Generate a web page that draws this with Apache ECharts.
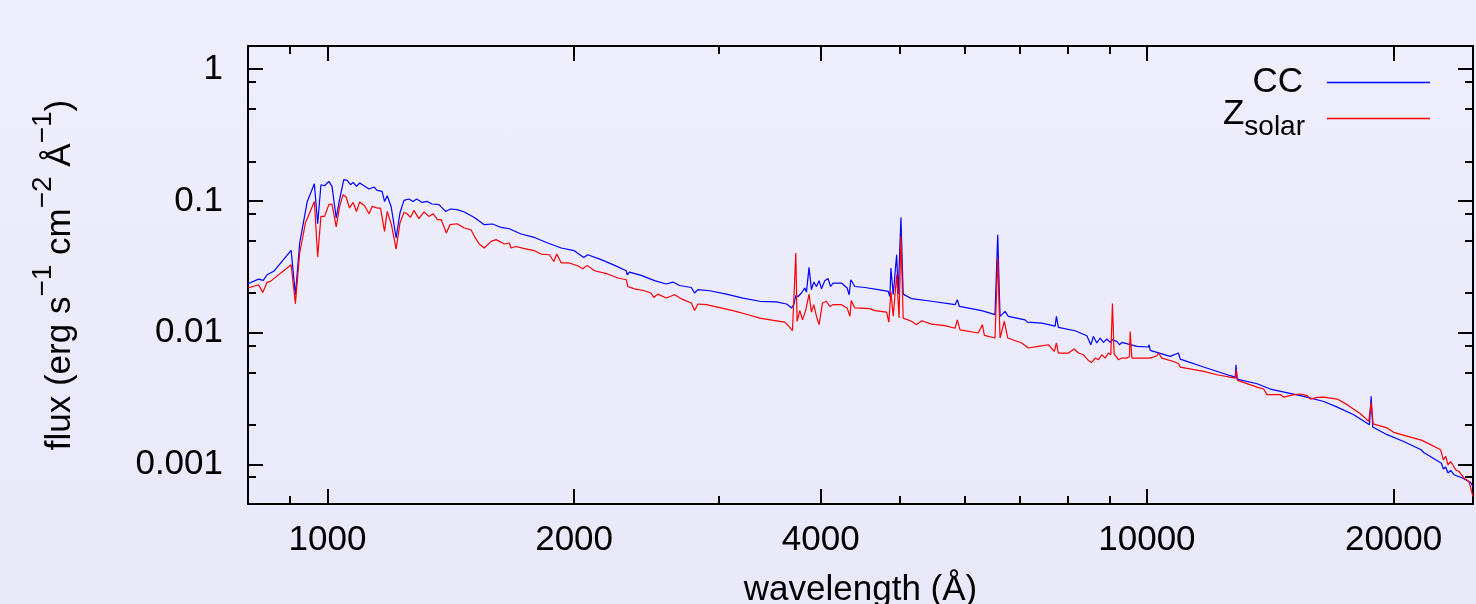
<!DOCTYPE html>
<html>
<head>
<meta charset="utf-8">
<title>flux vs wavelength</title>
<script src="https://cdn.jsdelivr.net/npm/echarts@6/dist/echarts.min.js"></script>
<style>
  html, body { margin: 0; padding: 0; }
  #main { width: 1476px; height: 604px; background: linear-gradient(#eeeefc, #e8e8f9); }
</style>
</head>
<body>
<div id="main"></div>
<script>
// [wavelength (Å), flux]
var ccPoints = [
  [800,0.0235],[824,0.0255],[835,0.0249],[844,0.0275],[860,0.0292],[903,0.0421],[914,0.0194],[925,0.0479],
  [945,0.0991],[964,0.1351],[973,0.0671],[982,0.1327],[992,0.1304],[1004,0.1406],[1013,0.1288],[1025,0.0742],
  [1033,0.0969],[1047,0.1449],[1057,0.1431],[1067,0.1327],[1075,0.1382],[1085,0.1288],[1095,0.1367],[1124,0.1231],
  [1140,0.1275],[1150,0.1201],[1166,0.1180],[1174,0.0991],[1183,0.1095],[1196,0.0908],[1213,0.0523],[1226,0.0809],
  [1240,0.1009],[1257,0.1034],[1272,0.0991],[1285,0.1034],[1305,0.0974],[1324,0.0991],[1342,0.0947],[1368,0.0936],
  [1394,0.0832],[1413,0.0868],[1440,0.0858],[1469,0.0824],[1511,0.0749],[1554,0.0660],[1591,0.0668],[1629,0.0629],
  [1667,0.0615],[1723,0.0561],[1789,0.0528],[1857,0.0479],[1929,0.0439],[2001,0.0419],[2055,0.0372],[2078,0.0390],
  [2158,0.0358],[2241,0.0324],[2316,0.0295],[2322,0.0275],[2337,0.0288],[2415,0.0272],[2507,0.0248],[2591,0.0234],
  [2640,0.0242],[2690,0.0228],[2780,0.0220],[2806,0.0200],[2832,0.0212],[2927,0.0208],[3068,0.0196],[3214,0.0183],
  [3369,0.0173],[3531,0.0171],[3633,0.0165],[3685,0.0154],[3708,0.0163],[3729,0.0191],[3753,0.0188],[3789,0.0200],
  [3824,0.0218],[3842,0.0203],[3870,0.0313],[3896,0.0212],[3922,0.0242],[3952,0.0224],[3981,0.0248],[4008,0.0215],
  [4045,0.0248],[4083,0.0257],[4111,0.0224],[4141,0.0238],[4240,0.0238],[4307,0.0218],[4332,0.0194],[4352,0.0252],
  [4401,0.0224],[4527,0.0220],[4699,0.0212],[4834,0.0206],[4857,0.0188],[4871,0.0309],[4903,0.0194],[4950,0.0390],
  [4972,0.0196],[5010,0.0749],[5042,0.0196],[5163,0.0181],[5462,0.0173],[5833,0.0163],[5871,0.0178],[5904,0.0158],
  [6287,0.0147],[6526,0.0137],[6576,0.0554],[6619,0.0133],[6713,0.0145],[6775,0.0133],[7101,0.0125],[7147,0.0120],
  [7443,0.0118],[7727,0.0112],[7755,0.0133],[7798,0.01095],[8173,0.01034],[8447,0.00947],[8543,0.00809],[8605,0.00936],
  [8688,0.00834],[8769,0.00910],[8851,0.00843],[8935,0.00894],[9019,0.00843],[9077,0.00883],[9190,0.00858],[9258,0.00809],
  [9320,0.00843],[9723,0.00786],[10045,0.00778],[10065,0.00809],[10093,0.00733],[10677,0.00660],[10929,0.00700],[10981,0.00630],
  [11728,0.00548],[12641,0.00471],[12820,0.00460],[12845,0.00571],[12881,0.00444],[13628,0.00409],[14146,0.00373],[15541,0.00328],
  [16440,0.00300],[17072,0.00272],[17880,0.00238],[18688,0.00200],[18777,0.00328],[18862,0.00192],[19636,0.00168],[20576,0.00149],
  [21611,0.00129],[21690,0.00133],[21769,0.00123],[22875,0.00102],[23004,0.000921],[23153,0.000954],[23303,0.000859],[23481,0.000899],
  [23700,0.000834],[24267,0.000787],[24840,0.000729],[25000,0.000676]
];

var solarPoints = [
  [800,0.0218],[824,0.0231],[834,0.0202],[844,0.0241],[852,0.0245],[903,0.0328],[914,0.0166],[925,0.0402],
  [940,0.0679],[964,0.0991],[973,0.0375],[982,0.0763],[992,0.0763],[1004,0.0936],[1013,0.0947],[1025,0.0634],
  [1035,0.0908],[1045,0.1115],[1054,0.1071],[1064,0.0883],[1075,0.0974],[1085,0.0832],[1095,0.0981],[1110,0.0920],
  [1124,0.0799],[1134,0.0908],[1150,0.0883],[1161,0.0883],[1174,0.0587],[1183,0.0832],[1197,0.0660],[1213,0.0431],
  [1226,0.0679],[1240,0.0818],[1251,0.0799],[1263,0.0749],[1275,0.0847],[1293,0.0733],[1312,0.0824],[1330,0.0763],
  [1346,0.0799],[1362,0.0720],[1377,0.0720],[1397,0.0571],[1411,0.0660],[1440,0.0671],[1469,0.0623],[1497,0.0604],
  [1514,0.0528],[1532,0.0471],[1554,0.0439],[1584,0.0493],[1606,0.0508],[1644,0.0471],[1667,0.0479],[1675,0.0439],
  [1699,0.0451],[1739,0.0434],[1789,0.0419],[1823,0.0395],[1866,0.0390],[1889,0.0347],[1905,0.0395],[1929,0.0338],
  [1973,0.0338],[2020,0.0322],[2049,0.0306],[2075,0.0324],[2118,0.0295],[2198,0.0279],[2262,0.0260],[2316,0.0252],
  [2326,0.0224],[2370,0.0215],[2438,0.0208],[2484,0.0199],[2502,0.0185],[2530,0.0196],[2591,0.0183],[2653,0.0194],
  [2716,0.0178],[2780,0.0168],[2806,0.0147],[2832,0.0165],[2900,0.0163],[3011,0.0155],[3125,0.0147],[3245,0.0138],
  [3369,0.0129],[3531,0.0123],[3615,0.0120],[3666,0.01095],[3694,0.01034],[3729,0.0402],[3742,0.0122],[3771,0.0147],
  [3800,0.0125],[3835,0.0149],[3870,0.0196],[3896,0.0143],[3922,0.0163],[3952,0.0133],[3981,0.0115],[4019,0.0168],
  [4064,0.0173],[4103,0.0158],[4141,0.0163],[4240,0.0163],[4307,0.0154],[4341,0.0133],[4357,0.0175],[4401,0.0154],
  [4591,0.0152],[4656,0.0147],[4812,0.0143],[4843,0.0120],[4871,0.0206],[4903,0.0133],[4950,0.0275],[4984,0.0129],
  [5010,0.0538],[5042,0.0129],[5163,0.0122],[5236,0.0115],[5310,0.0123],[5462,0.0116],[5671,0.0113],[5833,0.0108],
  [5871,0.0125],[5915,0.0105],[6227,0.00993],[6298,0.0115],[6334,0.00952],[6526,0.00910],[6576,0.0369],[6619,0.00910],
  [6699,0.0122],[6764,0.00910],[7035,0.00834],[7167,0.00764],[7371,0.00786],[7582,0.00809],[7711,0.00720],[7755,0.00834],
  [7798,0.00700],[8021,0.00700],[8151,0.00751],[8250,0.00700],[8366,0.00679],[8485,0.00615],[8566,0.00594],[8647,0.00641],
  [8727,0.00623],[8811,0.00679],[8893,0.00641],[8976,0.00700],[9036,0.00679],[9077,0.0166],[9120,0.00692],[9231,0.00623],
  [9320,0.00641],[9453,0.00641],[9522,0.00660],[9541,0.01021],[9587,0.00641],[9813,0.00641],[10093,0.00641],[10285,0.00668],
  [10332,0.00700],[10431,0.00641],[10777,0.00604],[10929,0.00580],[10981,0.00548],[11728,0.00508],[12180,0.00479],[12820,0.00452],
  [12856,0.00523],[12903,0.00434],[13628,0.00386],[13882,0.00373],[14016,0.00338],[14554,0.00338],[14690,0.00324],[15110,0.00338],
  [15398,0.00342],[15690,0.00332],[15836,0.00313],[16137,0.00322],[16440,0.00324],[17072,0.00313],[17551,0.00284],[18221,0.00242],
  [18651,0.00212],[18777,0.00294],[18883,0.00203],[19636,0.00189],[20006,0.00175],[20970,0.00161],[21672,0.00152],[22830,0.00129],
  [23004,0.00108],[23153,0.00115],[23303,0.000993],[23481,0.00105],[23813,0.000910],[24035,0.000883],[24375,0.000787],[24721,0.000742],
  [25000,0.000568]
];

var xLabelTicks = [1000, 2000, 4000, 10000, 20000];
var xMinorTicks = [900, 3000, 5000, 6000, 7000, 8000, 9000];
var yLabelTicks = [0.001, 0.01, 0.1, 1];
var yMinorTicks = [0.0008, 0.002, 0.005, 0.008, 0.02, 0.05, 0.08, 0.2, 0.5, 0.8];

var FONT = '"Liberation Sans", Arial, Helvetica, sans-serif';

function xAxisOf(pos, ticks, len, labels) {
  return {
    type: 'log', logBase: 10, min: 800, max: 25000, position: pos,
    axisLine: { show: len > 10, lineStyle: { color: '#000', width: 2 } },
    axisTick: { show: true, inside: true, length: len, customValues: ticks, lineStyle: { color: '#000', width: 2 } },
    axisLabel: { show: labels, customValues: ticks, margin: 19, fontSize: 35, color: '#000', fontFamily: FONT,
      formatter: function (v) { return String(Math.round(v)); } },
    splitLine: { show: false }
  };
}
function yAxisOf(pos, ticks, len, labels) {
  return {
    type: 'log', logBase: 10, min: 0.0005, max: 1.5, position: pos,
    axisLine: { show: len > 10, lineStyle: { color: '#000', width: 2 } },
    axisTick: { show: true, inside: true, length: len, customValues: ticks, lineStyle: { color: '#000', width: 2 } },
    axisLabel: { show: labels, customValues: ticks, margin: 25, fontSize: 35, color: '#000', fontFamily: FONT,
      formatter: function (v) { return String(v); } },
    splitLine: { show: false }
  };
}

var xMain = xAxisOf('bottom', xLabelTicks, 15, true);
xMain.name = 'wavelength (Å)';
xMain.nameLocation = 'middle';
xMain.nameGap = 69;
xMain.nameTextStyle = { fontSize: 35, color: '#000', fontFamily: FONT };

var yMain = yAxisOf('left', yLabelTicks, 15, true);
yMain.name = '{m|flux (erg s}{s|−1}{m| cm}{s|−2}{m| Å}{s|−1}{m|)}';
yMain.nameLocation = 'middle';
yMain.nameRotate = 90;
yMain.nameGap = 156;
yMain.nameTextStyle = {
  color: '#000', fontFamily: FONT,
  rich: {
    m: { fontSize: 35, lineHeight: 63, color: '#000', fontFamily: FONT },
    s: { fontSize: 28, lineHeight: 28, verticalAlign: 'top', color: '#000', fontFamily: FONT }
  }
};

var myChart = echarts.init(document.getElementById('main'));
var option = {
  animation: false,
  backgroundColor: 'transparent',
  textStyle: { fontFamily: FONT },
  grid: { left: 248, right: 3, top: 46, bottom: 100, containLabel: false, outerBoundsMode: 'none' },
  legend: [
    {
      data: ['CC'], right: 46, top: 65, padding: 0, align: 'right', selectedMode: false,
      icon: 'rect', itemWidth: 103, itemHeight: 1.5,
      formatter: function () { return '{c|CC}'; },
      textStyle: { color: '#000', fontSize: 35, fontFamily: FONT,
        rich: { c: { fontSize: 35, color: '#000', fontFamily: FONT, padding: [0, 19, 0, 0] } } }
    },
    {
      data: ['Zsolar'], right: 46, top: 97, padding: 0, align: 'right', selectedMode: false,
      icon: 'rect', itemWidth: 103, itemHeight: 1.5,
      formatter: function () { return '{z|Z}{b|solar}'; },
      textStyle: { color: '#000', fontSize: 35, fontFamily: FONT, padding: [0, 0, 8, 0],
        rich: {
          z: { fontSize: 35, lineHeight: 54, color: '#000', fontFamily: FONT },
          b: { fontSize: 28, lineHeight: 28, verticalAlign: 'bottom', color: '#000', fontFamily: FONT, padding: [0, 17, 0, 0] }
        } }
    }
  ],
  xAxis: [
    xMain,
    xAxisOf('bottom', xMinorTicks, 8, false),
    xAxisOf('top', xLabelTicks, 15, false),
    xAxisOf('top', xMinorTicks, 8, false)
  ],
  yAxis: [
    yMain,
    yAxisOf('left', yMinorTicks, 8, false),
    yAxisOf('right', yLabelTicks, 15, false),
    yAxisOf('right', yMinorTicks, 8, false)
  ],
  series: [
    {
      name: 'CC', type: 'line', data: ccPoints, symbol: 'none', xAxisIndex: 0, yAxisIndex: 0,
      lineStyle: { color: '#0000ff', width: 1.2 }, itemStyle: { color: '#0000ff' }
    },
    {
      name: 'Zsolar', type: 'line', data: solarPoints, symbol: 'none', xAxisIndex: 0, yAxisIndex: 0,
      lineStyle: { color: '#ff0000', width: 1.2 }, itemStyle: { color: '#ff0000' }
    }
  ]
};
myChart.setOption(option);
</script>
</body>
</html>
